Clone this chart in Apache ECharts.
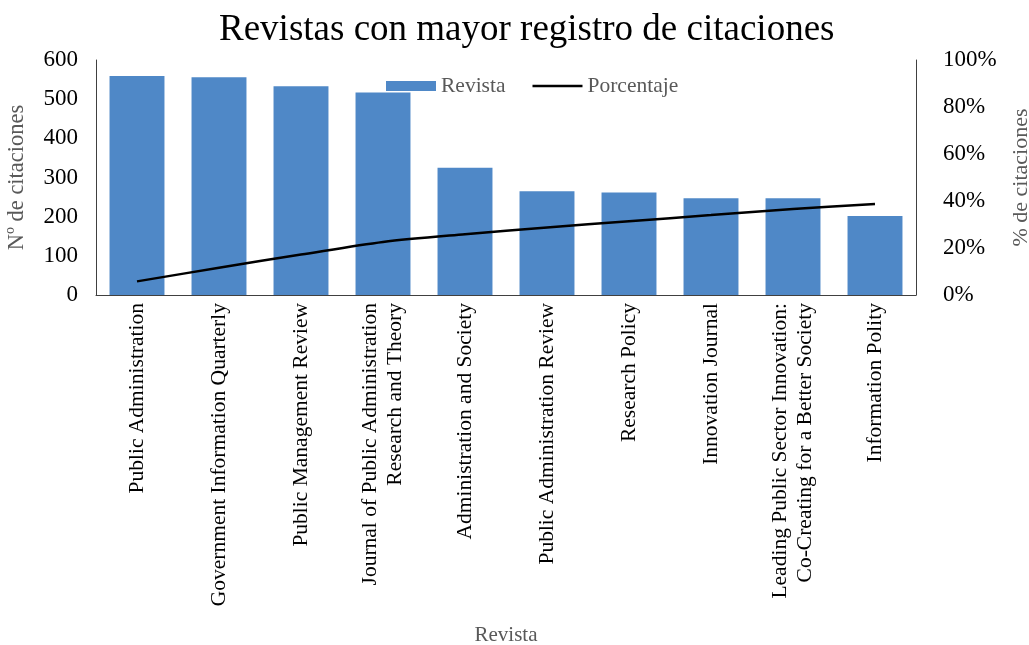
<!DOCTYPE html>
<html>
<head>
<meta charset="utf-8">
<script src="https://cdn.jsdelivr.net/npm/echarts@6/dist/echarts.min.js"></script>
<style>html,body{margin:0;padding:0;background:#fff}#c{width:1029px;height:645px}</style>
</head>
<body>
<div id="c"></div>
<script>
const categories = [
  "Public Administration",
  "Government Information Quarterly",
  "Public Management Review",
  "Journal of Public Administration\nResearch and Theory",
  "Administration and Society",
  "Public Administration Review",
  "Research Policy",
  "Innovation Journal",
  "Leading Public Sector Innovation:\nCo-Creating for a Better Society",
  "Information Polity"
];
const citaciones = [559, 556, 533, 517, 325, 265, 262, 247, 247, 202];
const porcentaje = [5.8, 11.6, 17.2, 22.6, 25.9, 28.7, 31.4, 34.0, 36.6, 38.7];
const leftTicks = [0, 600, 100];
const rightTicks = [0, 100, 20];

const serif = "'Liberation Serif', 'DejaVu Serif', serif";
const chart = echarts.init(document.getElementById('c'));
chart.setOption({
  animation: false,
  textStyle: { fontFamily: serif },
  title: {
    text: 'Revistas con mayor registro de citaciones',
    left: 214, top: 7,
    textStyle: { fontFamily: serif, fontSize: 37, fontWeight: 'normal', color: '#000' }
  },
  legend: {
    left: 386, top: 75, padding: 0, itemGap: 27, itemWidth: 50, itemHeight: 10,
    textStyle: { fontFamily: serif, fontSize: 21.5, color: '#595959' },
    data: [
      { name: 'Revista', icon: 'rect' },
      { name: 'Porcentaje', icon: 'path://M0,0 H50 V2.4 H0 Z' }
    ]
  },
  grid: { left: 96, right: 113, top: 60, bottom: 350, containLabel: false, outerBoundsMode: 'none' },
  xAxis: {
    type: 'category', data: categories,
    name: 'Revista', nameLocation: 'middle', nameGap: 330,
    nameTextStyle: { fontFamily: serif, fontSize: 21, color: '#595959' },
    axisLine: { lineStyle: { color: '#404040', width: 1 } },
    axisTick: { show: false },
    axisLabel: { rotate: 90, interval: 0, fontFamily: serif, fontSize: 21.5, color: '#000', margin: 8, lineHeight: 25 }
  },
  yAxis: [{
    type: 'value', min: leftTicks[0], max: leftTicks[1], interval: leftTicks[2],
    name: 'Nº de citaciones', nameLocation: 'middle', nameGap: 67, nameRotate: 90,
    nameTextStyle: { fontFamily: serif, fontSize: 22.5, color: '#595959' },
    axisLine: { show: true, lineStyle: { color: '#404040', width: 1 } },
    axisTick: { show: false }, splitLine: { show: false },
    axisLabel: { fontFamily: serif, fontSize: 23, color: '#000', margin: 18 }
  }, {
    type: 'value', min: rightTicks[0], max: rightTicks[1], interval: rightTicks[2],
    position: 'right',
    name: '% de citaciones', nameLocation: 'middle', nameGap: 94, nameRotate: 90,
    nameTextStyle: { fontFamily: serif, fontSize: 22, color: '#595959' },
    axisLine: { show: true, lineStyle: { color: '#404040', width: 1 } },
    axisTick: { show: false }, splitLine: { show: false },
    axisLabel: { fontFamily: serif, fontSize: 23, color: '#000', margin: 27, formatter: '{value}%' }
  }],
  series: [{
    name: 'Revista', type: 'bar', data: citaciones, barCategoryGap: '33%',
    itemStyle: { color: '#4f88c7' }
  }, {
    name: 'Porcentaje', type: 'line', yAxisIndex: 1, data: porcentaje,
    symbol: 'none', smooth: 0.3, symbolKeepAspect: true,
    lineStyle: { color: '#000', width: 2.5 }, itemStyle: { color: '#000' }
  }]
});
</script>
</body>
</html>
